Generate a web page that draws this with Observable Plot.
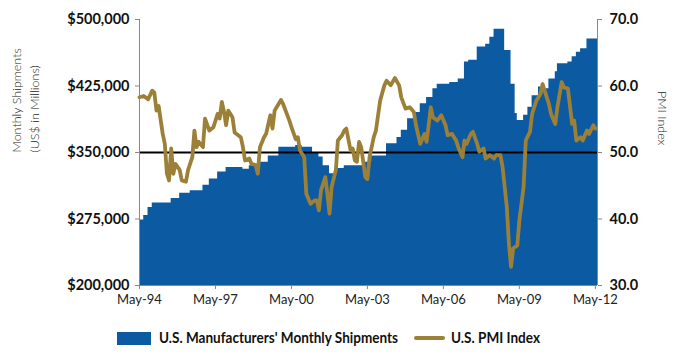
<!DOCTYPE html>
<html>
<head>
<meta charset="utf-8">
<script src="https://cdn.jsdelivr.net/npm/d3@7"></script>
<script src="https://cdn.jsdelivr.net/npm/@observablehq/plot@0.6"></script>
<style>
  html, body { margin: 0; padding: 0; background: #fff; }
  #wrap { position: relative; width: 685px; height: 364px; font-family: Lato, "Open Sans", sans-serif; }
  .sw-area { position: absolute; left: 117px; top: 332px; width: 34px; height: 13px; background: #0B5AA2; }
  .sw-line { position: absolute; left: 414px; top: 336px; width: 31px; height: 4px; background: #9C8038; border-radius: 2px; }
  .lg-text { position: absolute; top: 328px; font-size: 15px; font-weight: 700; color: #111; white-space: nowrap; transform-origin: 0 50%; }
</style>
</head>
<body>
<div id="wrap"></div>
<script>
// Month offsets count from May 1994 (0 = May-94)
// U.S. Manufacturers' Monthly Shipments (US$ millions), step levels starting at month offset
const shipMonths = [0, 2, 4, 6, 15, 19, 24, 30, 33, 37, 41, 49, 52, 57, 61, 66, 74, 77, 82, 85, 87, 90, 93, 97, 107, 110, 117, 122, 124, 127, 130, 133, 136, 139, 141, 147, 151, 154, 156, 160, 164, 166, 168, 173, 176, 178, 179, 182, 184, 186, 189, 191, 194, 197, 198, 203, 205, 207, 209, 212, 217];
const shipValues = [274000, 279000, 288000, 293000, 298000, 304000, 307000, 313000, 320000, 328000, 333000, 331000, 335000, 339000, 346000, 356000, 358000, 356000, 350000, 345000, 335000, 326000, 332000, 335000, 339000, 346000, 360000, 367000, 375000, 388000, 395000, 405000, 412000, 422000, 427000, 429000, 433000, 452000, 454000, 469000, 472000, 480000, 489000, 465000, 427000, 394000, 386000, 392000, 401000, 414000, 424000, 422000, 433000, 441000, 450000, 452000, 458000, 463000, 467000, 478000, 478000];

// U.S. PMI Index
const pmiMonths = [0, 2, 4, 6, 7, 8, 9, 11, 12, 13, 14, 15, 16, 17, 19, 20, 22, 23, 25, 26, 27, 28, 30, 31, 33, 35, 37, 38, 39, 40, 41, 42, 44, 45, 48, 49, 50, 52, 53, 55, 56, 57, 59, 60, 62, 63, 64, 67, 68, 71, 72, 74, 75, 76, 78, 79, 81, 83, 84, 85, 86, 88, 89, 90, 91, 93, 94, 96, 97, 98, 100, 101, 102, 103, 104, 105, 107, 108, 109, 111, 112, 114, 116, 117, 119, 121, 123, 124, 126, 128, 130, 131, 133, 135, 136, 138, 139, 141, 143, 145, 146, 148, 150, 151, 153, 154, 155, 157, 158, 160, 161, 163, 164, 166, 168, 169, 171, 172, 174, 175, 176, 177, 179, 180, 182, 183, 185, 186, 188, 190, 191, 192, 194, 195, 197, 198, 200, 201, 203, 205, 206, 207, 209, 210, 212, 213, 215, 216];
const pmiValues = [58.3, 58.5, 58.0, 59.3, 59.0, 56.3, 57.0, 52.8, 51.3, 46.8, 45.8, 50.6, 46.8, 48.3, 47.4, 45.8, 45.6, 47.4, 49.3, 53.3, 50.8, 51.6, 50.8, 55.1, 53.3, 53.8, 55.8, 55.1, 57.6, 56.1, 54.1, 56.3, 55.3, 53.0, 52.3, 50.8, 48.8, 49.1, 48.3, 48.1, 46.8, 50.8, 52.3, 52.8, 55.6, 53.6, 56.3, 57.9, 57.3, 54.8, 53.8, 52.0, 52.3, 50.3, 49.3, 43.8, 42.3, 42.8, 42.8, 41.3, 44.3, 46.3, 43.8, 40.8, 44.8, 47.4, 51.8, 52.6, 53.3, 53.6, 50.3, 50.6, 48.8, 48.6, 51.6, 50.8, 46.3, 46.0, 49.3, 52.3, 53.3, 57.8, 60.1, 60.8, 60.1, 61.2, 60.1, 58.3, 56.6, 56.8, 56.1, 54.1, 51.3, 52.8, 51.6, 56.8, 55.3, 54.8, 55.6, 54.1, 52.6, 52.8, 51.8, 50.8, 49.3, 51.8, 51.3, 52.8, 53.1, 51.3, 50.1, 50.6, 49.1, 49.6, 49.1, 49.6, 49.6, 47.8, 41.8, 36.3, 32.8, 35.6, 36.0, 39.8, 44.8, 51.8, 53.1, 55.8, 57.8, 58.8, 60.3, 59.3, 57.3, 55.8, 54.3, 56.8, 60.6, 59.8, 59.6, 54.3, 54.8, 51.8, 52.3, 51.8, 53.3, 52.8, 54.1, 53.6];

const leftTicks = [200000, 275000, 350000, 425000, 500000];
const rightTicks = [30, 40, 50, 60, 70];
const xTickYears = [1994, 1997, 2000, 2003, 2006, 2009, 2012];
const thresholdShip = 350000;

const monthDate = m => new Date(1994, 4 + m, 1);
const pmiToY = p => 200000 + (p - 30) * 7500;
const yToPmi = y => (y - 200000) / 7500 + 30;

const ship = shipMonths.map((m, i) => ({date: monthDate(m), value: shipValues[i]}));
const pmi = pmiMonths.map((m, i) => ({date: monthDate(m), value: pmiToY(pmiValues[i])}));
const xTicks = xTickYears.map(y => new Date(y, 4, 1));

const blue = "#0B5AA2";
const gold = "#9C8038";
const fmtMoney = d => "$" + d3.format(",")(d);

const chart = Plot.plot({
  width: 685,
  height: 318,
  marginLeft: 139,
  marginRight: 88,
  marginTop: 19,
  marginBottom: 33,
  style: {fontFamily: "Lato, 'Open Sans', sans-serif", background: "#fff", overflow: "visible"},
  x: {type: "time", domain: [new Date(1994, 4, 1), new Date(2012, 5, 1)]},
  y: {domain: [200000, 500000]},
  marks: [
    Plot.areaY(ship, {x: "date", y1: 200000, y2: "value", curve: "step-after", fill: blue}),
    Plot.ruleY([thresholdShip], {stroke: "#000", strokeWidth: 2}),
    Plot.line(pmi, {x: "date", y: "value", stroke: gold, strokeWidth: 3.8, strokeLinejoin: "round", strokeLinecap: "round"}),
    Plot.ruleX([new Date(1994, 4, 1)], {stroke: "#888", strokeWidth: 1}),
    Plot.ruleX([new Date(2012, 5, 1)], {stroke: "#888", strokeWidth: 1}),
    Plot.ruleY([200000], {stroke: "#888", strokeWidth: 1}),
    Plot.axisY({anchor: "left", ticks: leftTicks, tickFormat: fmtMoney, tickSize: 4, tickPadding: 6, fontSize: 14.5, fontWeight: 700, fill: "#111", stroke: "#888", label: null}),
    Plot.axisY({anchor: "right", ticks: rightTicks.map(pmiToY), tickFormat: d => yToPmi(d).toFixed(1), tickSize: 4, tickPadding: 8, fontSize: 14.5, fontWeight: 700, fill: "#111", stroke: "#888", label: null}),
    Plot.axisX({ticks: xTicks, tickFormat: d3.timeFormat("%b-%y"), tickSize: 4, tickPadding: 5, fontSize: 13, fill: "#222", stroke: "#888", label: null}),
    Plot.text(["Monthly Shipments\n(US$ in Millions)"], {frameAnchor: "left", dx: -115, dy: 0, rotate: -90, fontSize: 12.5, lineHeight: 1.45, fill: "#222", fontWeight: 300}),
    Plot.text(["PMI Index"], {frameAnchor: "right", dx: 64, dy: -7, rotate: 90, fontSize: 12.5, fill: "#222", fontWeight: 300})
  ]
});

const wrap = document.getElementById("wrap");
wrap.appendChild(chart);
const legendItems = [
  {cls: "sw-area", text: "U.S. Manufacturers' Monthly Shipments", left: 159, width: 239},
  {cls: "sw-line", text: "U.S. PMI Index", left: 451, width: 89}
];
for (const it of legendItems) {
  const sw = document.createElement("div");
  sw.className = it.cls;
  wrap.appendChild(sw);
  const t = document.createElement("div");
  t.className = "lg-text";
  t.style.left = it.left + "px";
  t.textContent = it.text;
  wrap.appendChild(t);
  const w = t.getBoundingClientRect().width;
  if (w > 0) t.style.transform = `scaleX(${it.width / w})`;
}
</script>
</body>
</html>
